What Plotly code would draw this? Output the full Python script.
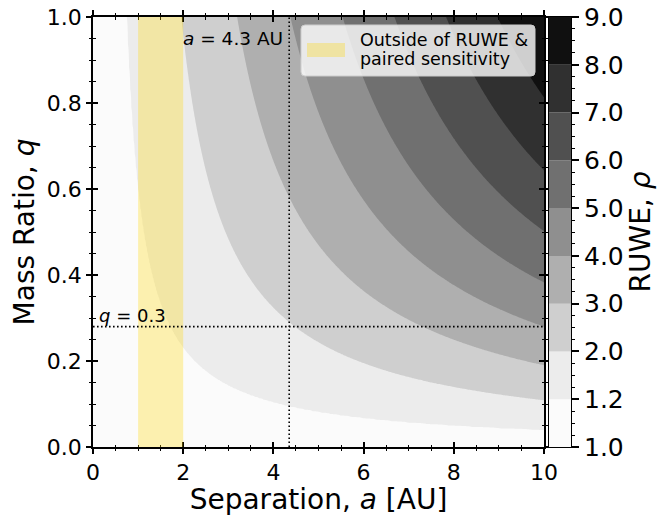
import numpy as np
import plotly.graph_objects as go

# ---------------- data ----------------
ruwe_levels = [1.0, 1.2, 2.0, 3.0, 4.0, 5.0, 6.0, 7.0, 8.0, 9.0]
level_labels = ["1.0", "1.2", "2.0", "3.0", "4.0", "5.0", "6.0", "7.0", "8.0", "9.0"]
band_grays = [251, 236, 207, 175, 143, 112, 80, 48, 16]
sigma_au = 0.565            # wobble scale (AU) matching the contour positions
a_range = [0.0, 10.0]
q_range = [0.0, 1.0]
insensitive_band = [1.0, 2.0]
a_marker = 4.35
q_marker = 0.28
a_marker_label = "<i>a</i> = 4.3 AU"
q_marker_label = "<i>q</i> = 0.3"
legend_lines = ["Outside of RUWE &", "paired sensitivity"]

# ---------------- model surface ----------------
a_grid = np.linspace(a_range[0], a_range[1], 401)
q_grid = np.linspace(q_range[0], q_range[1], 301)
A, Q = np.meshgrid(a_grid, q_grid)
rho = np.sqrt(1.0 + (A * Q / (1.0 + Q) / sigma_au) ** 2)
band_index = np.interp(rho, ruwe_levels, np.arange(len(ruwe_levels)))

colors = [f"rgb({g},{g},{g})" for g in band_grays]
breaks = [0.0, 0.13, 0.24, 0.34, 0.45, 0.55, 0.65, 0.76, 0.86, 1.0]
colorscale = []
for k, c in enumerate(colors):
    colorscale.append([breaks[k], c])
    colorscale.append([breaks[k + 1], c])

# ---------------- geometry ----------------
W, H = 660, 516
ML, MT = 93, 17
PW, PH = 478, 430
MR = W - ML - PW
MB = H - MT - PH
plot_right_px = 544
cb_left_px = 549


def px2x(px):
    return (px - ML) / PW


def py2y(py):
    return 1 - (py - MT) / PH


FONT = "DejaVu Sans"

fig = go.Figure()
fig.add_trace(go.Contour(
    x=a_grid, y=q_grid, z=band_index,
    contours=dict(start=0, end=len(ruwe_levels) - 1, size=1,
                  coloring="fill", showlines=False),
    colorscale=colorscale, zmin=0, zmax=len(ruwe_levels) - 1,
    line=dict(width=0), showscale=False, hoverinfo="skip",
))
fig.add_trace(go.Scatter(x=[], y=[], xaxis="x2", yaxis="y3",
                         showlegend=False, hoverinfo="skip"))
fig.add_trace(go.Bar(
    x=[0] * len(band_grays), y=[1] * len(band_grays),
    base=list(range(len(band_grays))), width=1,
    marker=dict(color=colors, line=dict(width=0)),
    xaxis="x4", yaxis="y4", showlegend=False, hoverinfo="skip",
))

main_dom = [0, px2x(plot_right_px)]
common_major = dict(ticklen=5, tickwidth=2, tickcolor="black")

fig.update_layout(
    width=W, height=H,
    margin=dict(l=ML, r=MR, t=MT, b=MB, pad=0),
    paper_bgcolor="white", plot_bgcolor="white",
    font=dict(family=FONT, color="black"),
    showlegend=False,
    xaxis=dict(
        domain=main_dom, range=a_range, anchor="y", automargin=False,
        showline=True, linecolor="black", linewidth=1.6, mirror="ticks",
        ticks="outside", dtick=2, tick0=0, **common_major,
        minor=dict(ticks="outside", dtick=0.5, ticklen=2.5, tickwidth=1, tickcolor="black"),
        showgrid=False, zeroline=False, ticklabeloverflow="allow",
        tickfont=dict(size=22),
        title=dict(text="Separation, <i>a</i> [AU]", font=dict(size=28), standoff=6),
    ),
    xaxis2=dict(
        overlaying="x", matches="x", anchor="y", range=a_range, automargin=False,
        showline=False, mirror="ticks", ticks="inside", dtick=2, tick0=0, **common_major,
        minor=dict(ticks="inside", dtick=0.5, ticklen=2.5, tickwidth=1, tickcolor="black"),
        showgrid=False, zeroline=False, showticklabels=False,
    ),
    yaxis=dict(
        domain=[0, 1], range=q_range, anchor="x", automargin=False,
        showline=True, linecolor="black", linewidth=1.6, mirror="ticks",
        ticks="outside", dtick=0.2, tick0=0, tickformat=".1f", **common_major,
        minor=dict(ticks="outside", dtick=0.05, ticklen=2.5, tickwidth=1, tickcolor="black"),
        showgrid=False, zeroline=False, ticklabeloverflow="allow",
        tickfont=dict(size=22),
        title=dict(text="Mass Ratio, <i>q</i>", font=dict(size=28), standoff=4),
    ),
    yaxis3=dict(
        overlaying="y", matches="y", anchor="x", range=q_range, automargin=False,
        showline=False, mirror="ticks", ticks="inside", dtick=0.2, tick0=0, **common_major,
        minor=dict(ticks="inside", dtick=0.05, ticklen=2.5, tickwidth=1, tickcolor="black"),
        showgrid=False, zeroline=False, showticklabels=False,
    ),
    xaxis4=dict(
        domain=[px2x(cb_left_px), 1], range=[-0.5, 0.5], anchor="y4", automargin=False,
        showline=True, linecolor="black", linewidth=1, mirror=True,
        ticks="", showticklabels=False, showgrid=False, zeroline=False, fixedrange=True,
    ),
    yaxis4=dict(
        domain=[0, 1], range=[0, len(ruwe_levels) - 1], anchor="x4", side="right",
        automargin=False, ticklabeloverflow="allow",
        showline=True, linecolor="black", linewidth=1, mirror=True,
        ticks="outside", tickvals=list(range(len(ruwe_levels))), ticktext=level_labels,
        ticklen=7, tickwidth=2, tickcolor="black",
        minor=dict(ticks="outside", dtick=0.25, ticklen=3, tickwidth=1, tickcolor="black"),
        showgrid=False, zeroline=False,
        tickfont=dict(size=25),
        title=dict(text="RUWE, <i>ρ</i>", font=dict(size=28), standoff=6),
    ),
    barmode="overlay",
)

shapes = []
shapes.append(dict(type="rect", xref="x", yref="y",
                   x0=insensitive_band[0], x1=insensitive_band[1], y0=q_range[0], y1=q_range[1],
                   fillcolor="rgba(255,215,0,0.3)", line=dict(width=0), layer="above"))
shapes.append(dict(type="line", xref="x", yref="y", x0=a_marker, x1=a_marker,
                   y0=q_range[0], y1=q_range[1],
                   line=dict(color="black", width=1.6, dash="1.6px,2.4px"), layer="above"))
shapes.append(dict(type="line", xref="x", yref="y", x0=a_range[0], x1=a_range[1],
                   y0=q_marker, y1=q_marker,
                   line=dict(color="black", width=1.6, dash="1.6px,2.4px"), layer="above"))

lx0, lx1, ly0, ly1 = 301, 535, 25, 76
r = 4
rx, ry = r / PW, r / PH
X0, X1 = px2x(lx0), px2x(lx1)
Y0, Y1 = py2y(ly1), py2y(ly0)
path = (f"M {X0+rx},{Y0} L {X1-rx},{Y0} Q {X1},{Y0} {X1},{Y0+ry} "
        f"L {X1},{Y1-ry} Q {X1},{Y1} {X1-rx},{Y1} L {X0+rx},{Y1} "
        f"Q {X0},{Y1} {X0},{Y1-ry} L {X0},{Y0+ry} Q {X0},{Y0} {X0+rx},{Y0} Z")
shapes.append(dict(type="path", xref="paper", yref="paper", path=path,
                   fillcolor="rgba(255,255,255,0.8)", line=dict(color="#cccccc", width=1),
                   layer="above"))
shapes.append(dict(type="rect", xref="paper", yref="paper",
                   x0=px2x(307), x1=px2x(345), y0=py2y(57), y1=py2y(43),
                   fillcolor="rgba(255,215,0,0.3)", line=dict(width=0), layer="above"))
fig.update_layout(shapes=shapes)

ann = []
ann.append(dict(xref="paper", yref="paper", x=px2x(358), y=py2y(40), xanchor="left", yanchor="middle",
                text=legend_lines[0], showarrow=False, font=dict(size=17.5)))
ann.append(dict(xref="paper", yref="paper", x=px2x(358), y=py2y(59), xanchor="left", yanchor="middle",
                text=legend_lines[1], showarrow=False, font=dict(size=17.5)))
ann.append(dict(xref="x", yref="paper", x=a_marker, xshift=-4, y=py2y(38),
                xanchor="right", yanchor="middle",
                text=a_marker_label, showarrow=False, font=dict(size=18.5)))
ann.append(dict(xref="paper", yref="paper", x=px2x(97), y=py2y(315),
                xanchor="left", yanchor="middle",
                text=q_marker_label, showarrow=False, font=dict(size=18)))
fig.update_layout(annotations=ann)

fig.write_html("out.html", config={"displayModeBar": False},
               post_script="document.body.style.margin='0px';")
